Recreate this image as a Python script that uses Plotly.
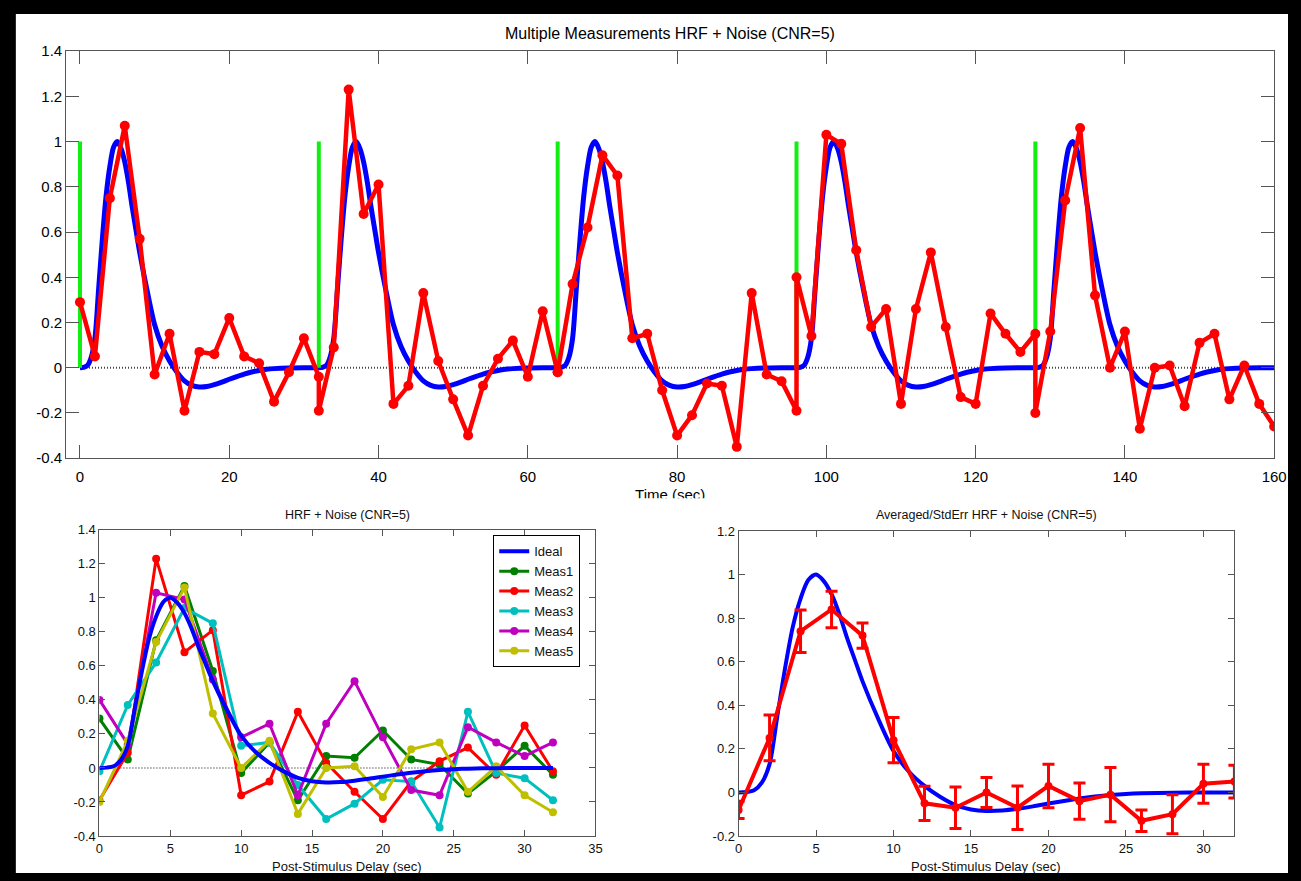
import plotly.graph_objects as go

# ---------------- data ----------------
onsets = [0, 32, 64, 96, 128]
delay = [0, 2, 4, 6, 8, 10, 12, 14, 16, 18, 20, 22, 24, 26, 28, 30, 32]

meas1 = [0.29, 0.05, 0.75, 1.07, 0.57, -0.03, 0.15, -0.19, 0.07, 0.06, 0.22, 0.05, 0.02, -0.15, -0.02, 0.13, -0.04]
meas2 = [-0.19, 0.09, 1.23, 0.68, 0.81, -0.16, -0.08, 0.33, 0.03, -0.14, -0.30, -0.08, 0.04, 0.12, -0.04, 0.25, -0.02]
meas3 = [-0.02, 0.37, 0.62, 0.94, 0.85, 0.13, 0.15, -0.10, -0.30, -0.21, -0.07, -0.08, -0.35, 0.33, -0.03, -0.06, -0.19]
meas4 = [0.40, 0.14, 1.03, 0.99, 0.52, 0.18, 0.26, -0.16, 0.26, 0.51, 0.18, -0.13, -0.16, 0.24, 0.15, 0.07, 0.15]
meas5 = [-0.20, 0.16, 0.74, 1.06, 0.32, 0.00, 0.16, -0.27, 0.00, 0.01, -0.17, 0.11, 0.15, -0.14, 0.01, -0.16, -0.26]

avg_hrf = [-0.08, 0.25, 0.74, 0.84, 0.72, 0.24, -0.05, -0.07, 0.00, -0.07, 0.03, -0.04, -0.01, -0.13, -0.10, 0.04, 0.05]
std_err = [0.04, 0.105, 0.098, 0.084, 0.058, 0.104, 0.079, 0.095, 0.069, 0.10, 0.10, 0.083, 0.125, 0.049, 0.09, 0.09, 0.075]

hrf_t = [0, 0.5, 1, 1.5, 2, 2.5, 3, 3.5, 4, 4.5, 5, 5.5, 6, 6.5, 7, 7.5, 8, 9, 10, 11, 12, 13, 14, 15, 16,
         17, 18, 19, 20, 21, 22, 23, 24, 25, 26, 28, 30, 32]
hrf_y = [0, 0.002, 0.01, 0.045, 0.13, 0.35, 0.57, 0.76, 0.89, 0.975, 1.0, 0.97, 0.91, 0.82, 0.71, 0.61, 0.51,
         0.34, 0.19, 0.095, 0.03, -0.02, -0.058, -0.078, -0.085, -0.083, -0.075, -0.064, -0.051, -0.039,
         -0.028, -0.019, -0.012, -0.007, -0.004, -0.001, 0, 0]

meas_names = ["Meas1", "Meas2", "Meas3", "Meas4", "Meas5"]
meas_colors = ["#007f00", "#ff0000", "#00bfbf", "#bf00bf", "#bfbf00"]

top_xticks = [0, 20, 40, 60, 80, 100, 120, 140, 160]
top_yticks = [-0.4, -0.2, 0, 0.2, 0.4, 0.6, 0.8, 1, 1.2, 1.4]
top_ylabels = ["-0.4", "-0.2", "0", "0.2", "0.4", "0.6", "0.8", "1", "1.2", "1.4"]
bl_xticks = [0, 5, 10, 15, 20, 25, 30, 35]
br_xticks = [0, 5, 10, 15, 20, 25, 30]
br_yticks = [-0.2, 0, 0.2, 0.4, 0.6, 0.8, 1, 1.2]
br_ylabels = ["-0.2", "0", "0.2", "0.4", "0.6", "0.8", "1", "1.2"]

# ---------------- layout helpers ----------------
W, H = 1301, 881
FONT = "Liberation Sans, Arial, Helvetica, sans-serif"


def dx(p):
    return p / W


def dy(p):
    return 1 - p / H


meas_all = [meas1, meas2, meas3, meas4, meas5]

fig = go.Figure()

# ---- top panel ----
top_bx, top_by = [], []
for k, on in enumerate(onsets):
    for t, v in zip(hrf_t, hrf_y):
        if t < 32 or k == len(onsets) - 1:
            top_bx.append(on + t)
            top_by.append(v)

fig.add_trace(go.Scatter(x=[0, 160], y=[0, 0], mode="lines", xaxis="x", yaxis="y",
                         line=dict(color="#444444", width=2, dash="1px,2px"), showlegend=False))
fig.add_trace(go.Scatter(x=top_bx, y=top_by, mode="lines", xaxis="x", yaxis="y",
                         line=dict(color="#0000ff", width=5, shape="spline", smoothing=0.8),
                         showlegend=False))
gx, gy = [], []
for on in onsets:
    gx += [on, on, None]
    gy += [0, 1, None]
fig.add_trace(go.Scatter(x=gx, y=gy, mode="lines", xaxis="x", yaxis="y",
                         line=dict(color="#11ee11", width=4), showlegend=False))
rx, ry = [], []
for on, m in zip(onsets, meas_all):
    rx += [on + d for d in delay]
    ry += m
fig.add_trace(go.Scatter(x=rx, y=ry, mode="lines+markers", xaxis="x", yaxis="y",
                         line=dict(color="#ff0000", width=4.5),
                         marker=dict(color="#ff0000", size=10), showlegend=False))

# ---- bottom-left panel ----
fig.add_trace(go.Scatter(x=[0, 32], y=[0, 0], mode="lines", xaxis="x2", yaxis="y2",
                         line=dict(color="#555555", width=1.5, dash="1px,2px"), showlegend=False))
for name, col, m in zip(meas_names, meas_colors, meas_all):
    fig.add_trace(go.Scatter(x=delay, y=m, mode="lines+markers", name=name, xaxis="x2", yaxis="y2",
                             line=dict(color=col, width=3), marker=dict(color=col, size=8),
                             legendrank=2))
fig.add_trace(go.Scatter(x=hrf_t, y=hrf_y, mode="lines", name="Ideal", xaxis="x2", yaxis="y2",
                         line=dict(color="#0000ff", width=4, shape="spline", smoothing=0.8),
                         legendrank=1))

# ---- bottom-right panel ----
fig.add_trace(go.Scatter(x=hrf_t, y=hrf_y, mode="lines", xaxis="x3", yaxis="y3",
                         line=dict(color="#0000ff", width=4, shape="spline", smoothing=0.8),
                         showlegend=False))
fig.add_trace(go.Scatter(x=delay, y=avg_hrf, mode="lines+markers", xaxis="x3", yaxis="y3",
                         line=dict(color="#ff0000", width=4),
                         marker=dict(color="#ff0000", size=8),
                         error_y=dict(type="data", array=std_err, color="#ff0000", thickness=3, width=6),
                         showlegend=False, cliponaxis=True))

# ---- clipped "Time (sec)" label (cut off as in the source) ----
fig.add_trace(go.Scatter(x=[0.5], y=[0.15], mode="text", text=["Time (sec)"], xaxis="x4", yaxis="y4",
                         textfont=dict(family=FONT, size=15, color="black"),
                         showlegend=False, cliponaxis=True, hoverinfo="skip"))

axis_common = dict(showline=True, mirror="ticks", linecolor="#555555", linewidth=1, ticks="inside",
                   tickcolor="#555555", showgrid=False, zeroline=False)
top_font = dict(family=FONT, size=15, color="black")
bot_font = dict(family=FONT, size=13, color="#111111")

fig.update_layout(
    width=W, height=H,
    margin=dict(l=0, r=0, t=0, b=0),
    paper_bgcolor="black",
    plot_bgcolor="rgba(0,0,0,0)",
    font=dict(family=FONT, color="black"),
    xaxis=dict(domain=[dx(63), dx(1287)], range=[-1.85, 160], tickvals=top_xticks, ticklen=13,
               anchor="y", ticklabelstandoff=5, tickfont=top_font, **axis_common),
    yaxis=dict(domain=[dy(458), dy(43)], range=[-0.4, 1.4], tickvals=top_yticks, ticktext=top_ylabels,
               ticklen=13, anchor="x", tickfont=top_font, **axis_common),
    xaxis2=dict(domain=[dx(96.7), dx(599.3)], range=[0, 35], tickvals=bl_xticks, ticklen=6,
                anchor="y2", tickfont=bot_font, **axis_common),
    yaxis2=dict(domain=[dy(843.3), dy(531)], range=[-0.4, 1.4], tickvals=top_yticks, ticktext=top_ylabels,
                ticklen=6, anchor="x2", tickfont=bot_font, **axis_common),
    xaxis3=dict(domain=[dx(744.3), dx(1246.7)], range=[0, 32], tickvals=br_xticks, ticklen=6,
                anchor="y3", tickfont=bot_font, **axis_common),
    yaxis3=dict(domain=[dy(843.3), dy(532.3)], range=[-0.2, 1.2], tickvals=br_yticks, ticktext=br_ylabels,
                ticklen=6, anchor="x3", tickfont=bot_font, **axis_common),
    xaxis4=dict(domain=[dx(560), dx(790)], range=[0, 1], visible=False, anchor="y4", fixedrange=True),
    yaxis4=dict(domain=[dy(499), dy(486)], range=[0, 1], visible=False, anchor="x4", fixedrange=True),
    legend=dict(x=dx(495.7), y=dy(536.7), xanchor="left", yanchor="top", bgcolor="white",
                bordercolor="black", borderwidth=1, font=dict(family=FONT, size=13, color="#111111"),
                tracegroupgap=0),
    shapes=[dict(type="rect", xref="paper", yref="paper", x0=dx(12), x1=1, y0=0, y1=dy(5),
                 fillcolor="white", line=dict(width=0), layer="below")],
    annotations=[
        dict(text="Multiple Measurements HRF + Noise (CNR=5)", x=dx(675), y=dy(25), xref="paper", yref="paper",
             showarrow=False, font=dict(family=FONT, size=16, color="black"), xanchor="center", yanchor="middle"),
        dict(text="HRF + Noise (CNR=5)", x=dx(348), y=dy(516), xref="paper", yref="paper",
             showarrow=False, font=dict(family=FONT, size=12.5, color="#111111"), xanchor="center", yanchor="middle"),
        dict(text="Averaged/StdErr HRF + Noise (CNR=5)", x=dx(995.5), y=dy(516), xref="paper", yref="paper",
             showarrow=False, font=dict(family=FONT, size=12.5, color="#111111"), xanchor="center", yanchor="middle"),
        dict(text="Post-Stimulus Delay (sec)", x=dx(348), y=dy(874), xref="paper", yref="paper",
             showarrow=False, font=dict(family=FONT, size=13, color="#111111"), xanchor="center", yanchor="middle"),
        dict(text="Post-Stimulus Delay (sec)", x=dx(995.5), y=dy(874), xref="paper", yref="paper",
             showarrow=False, font=dict(family=FONT, size=13, color="#111111"), xanchor="center", yanchor="middle"),
    ],
)

fig.write_html("out.html", config={"displayModeBar": False},
               post_script="document.body.style.margin='0';document.body.style.background='black';")
